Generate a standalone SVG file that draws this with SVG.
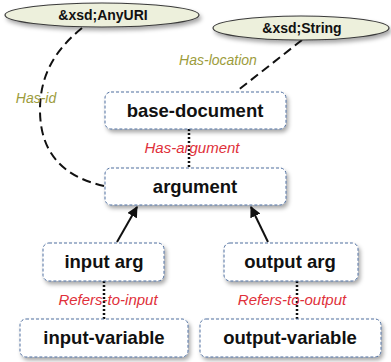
<svg xmlns="http://www.w3.org/2000/svg" width="391" height="362" viewBox="0 0 391 362">
<style>
.box{fill:#fff;stroke:#4f6f9f;stroke-width:1;stroke-dasharray:3 2;filter:url(#sh)}
.ell{fill:#edf0dc;stroke:#3a3a3a;stroke-width:1.2;filter:url(#sh)}
.nt{font-family:"Liberation Sans",Arial,sans-serif;font-weight:bold;font-size:18.5px;fill:#111;text-anchor:middle}
.et{font-family:"Liberation Sans",Arial,sans-serif;font-weight:bold;font-size:14px;fill:#111;text-anchor:middle}
.rl{font-family:"Liberation Sans",Arial,sans-serif;font-style:italic;font-size:15px;fill:#e0303a;text-anchor:middle}
.ol{font-family:"Liberation Sans",Arial,sans-serif;font-style:italic;font-size:14px;fill:#9c9c3c;text-anchor:middle}
.dash{fill:none;stroke:#111;stroke-width:2;stroke-dasharray:9 5}
.dot{fill:none;stroke:#111;stroke-width:2.5;stroke-dasharray:2 2}
.arr{fill:none;stroke:#111;stroke-width:2;marker-end:url(#ah)}
</style>
<defs>
<filter id="sh" x="-20%" y="-30%" width="140%" height="170%">
<feDropShadow dx="2" dy="3" stdDeviation="2" flood-color="#000" flood-opacity="0.35"/>
</filter>
<marker id="ah" viewBox="0 0 10 10" refX="9" refY="5" markerWidth="5.5" markerHeight="5.5" orient="auto" markerUnits="strokeWidth">
<path d="M0,0 L10,5 L0,10 z" fill="#111"/>
</marker>
</defs>
<g id="connectors">
<path class="dash" d="M82,28 C55,50 40,75 40,110 C40,150 60,176 104,186"/>
<path class="dash" d="M302,40 L237,91"/>
<path class="dot" d="M189,129 L189,168"/>
<path class="dot" d="M104,281 L104,319"/>
<path class="dot" d="M297,281 L297,319"/>
<path class="arr" d="M117,242 L137,207"/>
<path class="arr" d="M268,242 L251,207"/>
<text class="ol" x="36" y="103">Has-id</text>
<text class="ol" x="218" y="65">Has-location</text>
<text class="rl" x="192" y="153">Has-argument</text>
<text class="rl" x="108" y="305">Refers-to-input</text>
<text class="rl" x="292" y="305">Refers-to-output</text>
</g>
<g id="anyuri">
<ellipse class="ell" cx="102" cy="15" rx="97" ry="12"/>
<text class="et" x="103" y="20">&amp;xsd;AnyURI</text>
</g>
<g id="string">
<ellipse class="ell" cx="301" cy="28" rx="88" ry="12"/>
<text class="et" x="302" y="33">&amp;xsd;String</text>
</g>
<g id="base-document">
<rect class="box" x="105" y="92" width="181" height="37" rx="6"/>
<text class="nt" x="195" y="117">base-document</text>
</g>
<g id="argument">
<rect class="box" x="105" y="168" width="181" height="37" rx="6"/>
<text class="nt" x="195" y="193">argument</text>
</g>
<g id="input-arg">
<rect class="box" x="43" y="243" width="121" height="38" rx="6"/>
<text class="nt" x="104" y="268">input arg</text>
</g>
<g id="output-arg">
<rect class="box" x="224" y="243" width="134" height="38" rx="6"/>
<text class="nt" x="290" y="268">output arg</text>
</g>
<g id="input-variable">
<rect class="box" x="20" y="319" width="168" height="38" rx="6"/>
<text class="nt" x="104" y="344">input-variable</text>
</g>
<g id="output-variable">
<rect class="box" x="200" y="319" width="181" height="38" rx="6"/>
<text class="nt" x="290" y="344">output-variable</text>
</g>
</svg>
